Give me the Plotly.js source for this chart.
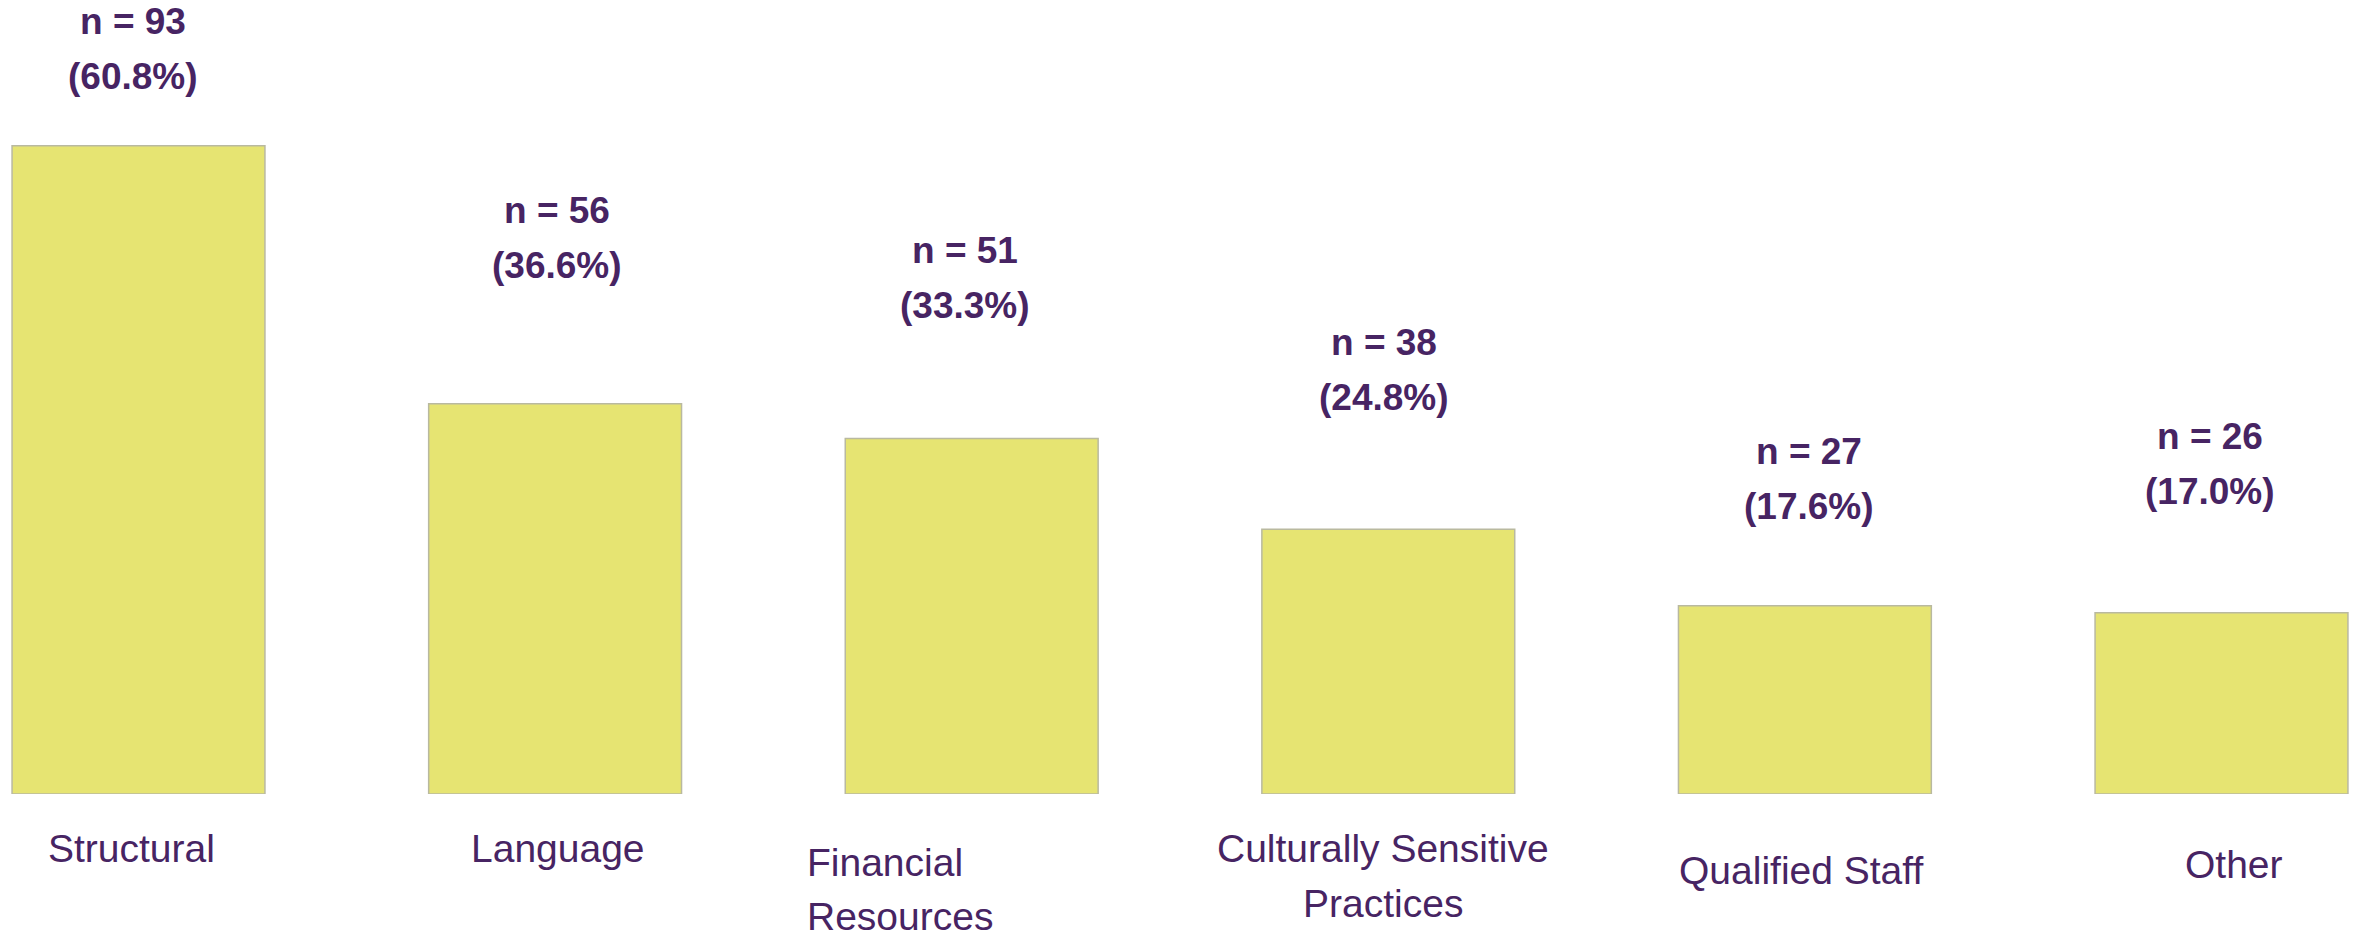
<!DOCTYPE html>
<html>
<head>
<meta charset="utf-8">
<script src="https://cdn.plot.ly/plotly-3.0.1.min.js"></script>
<style>
  html, body { margin: 0; padding: 0; background: #ffffff; }
  #chart { width: 2361px; height: 939px; }
</style>
</head>
<body>
<div id="chart"></div>
<script>
// ---- data ----
const categories = ["Structural", "Language", "Financial\nResources", "Culturally Sensitive\nPractices", "Qualified Staff", "Other"];
const counts = [93, 56, 51, 38, 27, 26];
const percentLabels = ["60.8%", "36.6%", "33.3%", "24.8%", "17.6%", "17.0%"];

// ---- layout helpers (positions/styles, not data) ----
const textColor = "#472463";
const barLift = [69, 138, 133, 132, 99, 121];      // px above bar top for 2nd line centre
const barLabelDx = [-6, 2, -7, -4, 4, -12];
const lineGap = 55;
const catLineY = [[848], [848], [862, 916], [848, 903], [870], [864]]; // px from top
const catDx = [-7, 3, 0, -5, -4, 12];
const catAnchor = ["center", "center", "left", "center", "center", "center"];
const catLeftPx = 805;
const baselinePx = 794;
const plotLeftPx = 0;
const step = 416.6, firstCenter = 138.5;

const xIdx = categories.map((_, i) => i);

const trace = {
  type: "bar",
  x: xIdx,
  y: counts,
  marker: {
    color: "rgb(230,228,114)",
    line: { color: "rgb(185,185,160)", width: 1.5 }
  },
  hoverinfo: "skip"
};

const boldFont = { family: "Liberation Sans, Arial, sans-serif", size: 37, color: textColor, weight: "bold" };

const annotations = [];
counts.forEach((c, i) => {
  annotations.push({
    x: i, y: c, xref: "x", yref: "y",
    text: "<b>n = " + c + "</b>", showarrow: false,
    xanchor: "center", yanchor: "middle",
    xshift: barLabelDx[i], yshift: barLift[i] + lineGap,
    font: boldFont
  });
  annotations.push({
    x: i, y: c, xref: "x", yref: "y",
    text: "<b>(" + percentLabels[i] + ")</b>", showarrow: false,
    xanchor: "center", yanchor: "middle",
    xshift: barLabelDx[i], yshift: barLift[i],
    font: boldFont
  });
  const lines = categories[i].split("\n");
  lines.forEach((ln, k) => {
    const a = {
      x: i, y: 0, xref: "x", yref: "y",
      text: ln, showarrow: false,
      xanchor: catAnchor[i], yanchor: "middle",
      yshift: -(catLineY[i][k] - baselinePx),
      font: { family: "Liberation Sans, Arial, sans-serif", size: 39, color: textColor }
    };
    if (catAnchor[i] === "left") {
      a.xshift = catLeftPx - (firstCenter + step * i);
    } else {
      a.xshift = catDx[i];
    }
    annotations.push(a);
  });
});

const layout = {
  width: 2361, height: 939,
  margin: { l: 0, r: 0, t: 0, b: 939 - baselinePx, pad: 0 },
  paper_bgcolor: "#ffffff",
  plot_bgcolor: "#ffffff",
  showlegend: false,
  bargap: 0.393,
  xaxis: {
    range: [(plotLeftPx - firstCenter) / step, (2361 - firstCenter) / step],
    showticklabels: false, showgrid: false, zeroline: false, showline: false, ticks: "",
    fixedrange: true
  },
  yaxis: {
    range: [0, baselinePx / 6.97],
    showticklabels: false, showgrid: false, zeroline: false, showline: false, ticks: "",
    fixedrange: true
  },
  annotations: annotations
};

Plotly.newPlot("chart", [trace], layout, { staticPlot: true, displayModeBar: false });
</script>
</body>
</html>
